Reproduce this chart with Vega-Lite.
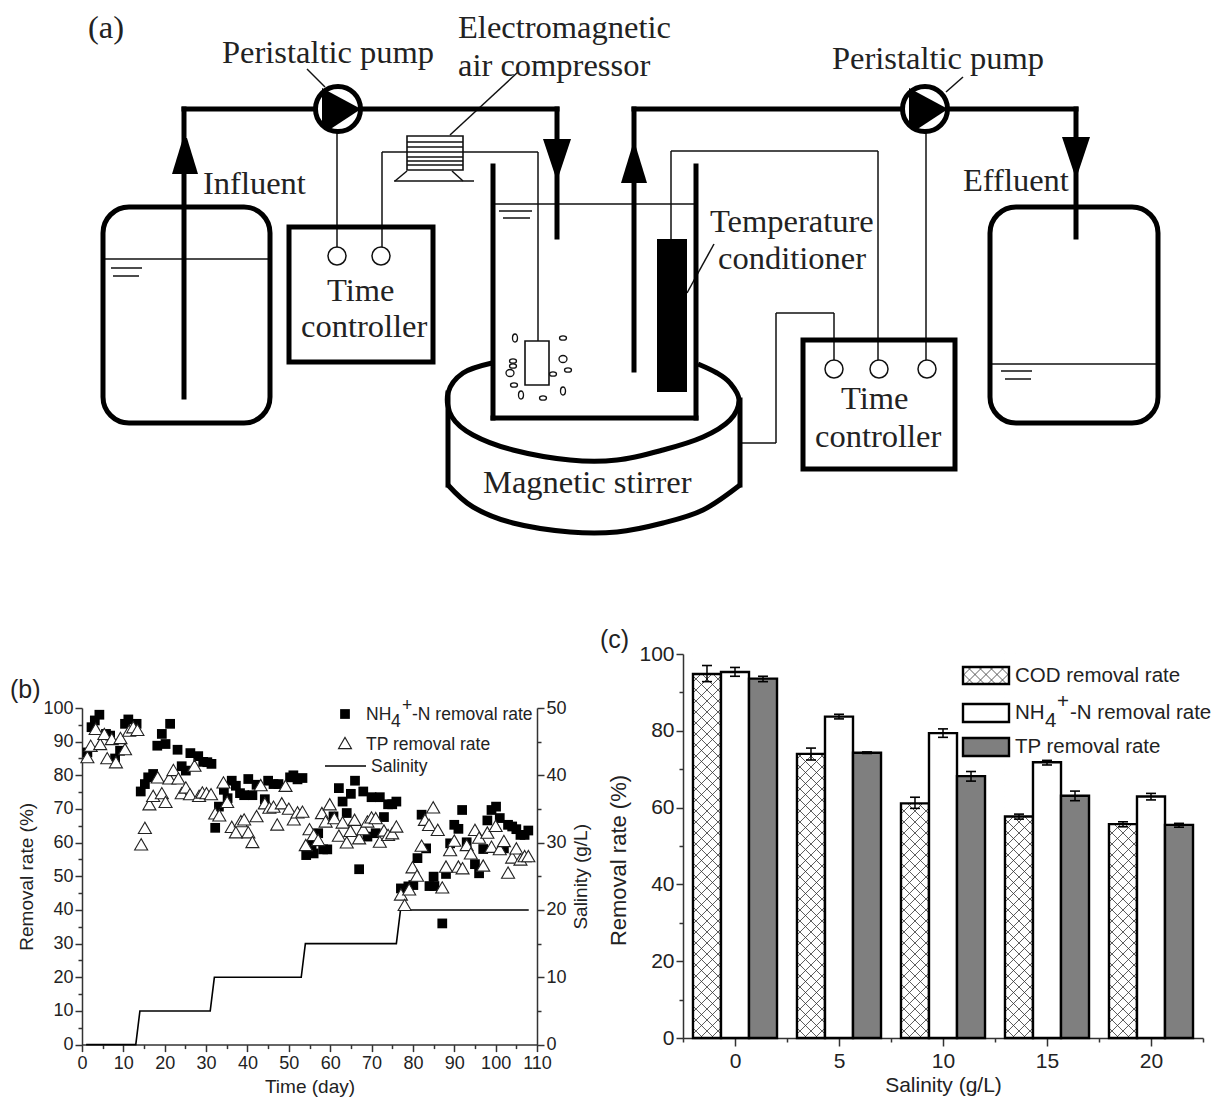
{
"$schema":"https://vega.github.io/schema/vega-lite/v6.json",
"width":1212,"height":1099,"padding":0,
"autosize":{"type":"fit","contains":"padding"},
"background":"white",
"config":{"view":{"stroke":null},"axis":{"grid":false,"labelFont":"Liberation Sans","titleFont":"Liberation Sans","labelColor":"#222","titleColor":"#222","titleFontWeight":"normal","domainColor":"#333","tickColor":"#333","domainWidth":1.5,"tickWidth":1.5,"labelOverlap":false,"labelFlush":false,"labelBound":false}},
"datasets":{
"bars":[
{"salinity":0,"series":"COD removal rate","rate":94.8,"low":92.8,"high":97},
{"salinity":0,"series":"NH4+-N removal rate","rate":95.3,"low":94.2,"high":96.5},
{"salinity":0,"series":"TP removal rate","rate":93.6,"low":92.8,"high":94.2},
{"salinity":5,"series":"COD removal rate","rate":74,"low":72.4,"high":75.5},
{"salinity":5,"series":"NH4+-N removal rate","rate":83.7,"low":83.1,"high":84.3},
{"salinity":5,"series":"TP removal rate","rate":74.3,"low":74.1,"high":74.5},
{"salinity":10,"series":"COD removal rate","rate":61.1,"low":59.8,"high":62.7},
{"salinity":10,"series":"NH4+-N removal rate","rate":79.4,"low":78.3,"high":80.5},
{"salinity":10,"series":"TP removal rate","rate":68.2,"low":66.9,"high":69.4},
{"salinity":15,"series":"COD removal rate","rate":57.7,"low":57,"high":58.3},
{"salinity":15,"series":"NH4+-N removal rate","rate":71.8,"low":71.1,"high":72.3},
{"salinity":15,"series":"TP removal rate","rate":63.1,"low":61.8,"high":64.3},
{"salinity":20,"series":"COD removal rate","rate":55.7,"low":55,"high":56.3},
{"salinity":20,"series":"NH4+-N removal rate","rate":62.9,"low":62,"high":63.7},
{"salinity":20,"series":"TP removal rate","rate":55.5,"low":54.9,"high":55.9}
],
"sal":[{"day":1,"s":0},{"day":13,"s":0},{"day":14,"s":5},{"day":31,"s":5},{"day":32,"s":10},{"day":53,"s":10},{"day":54,"s":15},{"day":76,"s":15},{"day":77,"s":20},{"day":108,"s":20}],
"nh4":[
{"day":1.3,"rate":86.8},{"day":2.3,"rate":94.3},{"day":3.1,"rate":96.3},{"day":4.2,"rate":98},{"day":5.8,"rate":92.3},{"day":6.8,"rate":91.8},{"day":8,"rate":85},{"day":9.2,"rate":87.3},{"day":10.4,"rate":95.3},{"day":11.2,"rate":96.6},{"day":13.2,"rate":95.3},{"day":14.2,"rate":75.2},{"day":15.2,"rate":77.4},{"day":16,"rate":79.4},{"day":17.2,"rate":80.4},{"day":18.2,"rate":88.8},{"day":19.3,"rate":92.3},{"day":20.2,"rate":89.3},{"day":21.3,"rate":95.3},{"day":23.1,"rate":87.6},{"day":24.1,"rate":82.7},{"day":25.1,"rate":81.4},{"day":26.2,"rate":86.6},{"day":28.1,"rate":85.7},{"day":29.3,"rate":84},{"day":30.3,"rate":83.9},{"day":31.3,"rate":83.4},{"day":32.2,"rate":64.4},{"day":33.1,"rate":70.7},{"day":34.3,"rate":75.7},{"day":35.2,"rate":73.2},{"day":36.2,"rate":78.4},{"day":37.2,"rate":76.9},{"day":38.2,"rate":74.7},{"day":39.2,"rate":74.1},{"day":40.2,"rate":78.9},{"day":41.2,"rate":74.1},{"day":42.2,"rate":77.2},{"day":44.2,"rate":72.9},{"day":45,"rate":78.4},{"day":46.3,"rate":77.4},{"day":47.5,"rate":77.4},{"day":50.3,"rate":79.4},{"day":51.1,"rate":80},{"day":52.1,"rate":78.8},{"day":53.3,"rate":79.2},{"day":54.2,"rate":56.3},{"day":55.5,"rate":59.3},{"day":56,"rate":56.8},{"day":57.1,"rate":62.8},{"day":58.3,"rate":58},{"day":59.3,"rate":58},{"day":60.8,"rate":67.8},{"day":62.1,"rate":76.2},{"day":63,"rate":72.2},{"day":64,"rate":68.8},{"day":65,"rate":74.5},{"day":66,"rate":78.4},{"day":67,"rate":52.1},{"day":68,"rate":75.2},{"day":69,"rate":61.8},{"day":70,"rate":73.5},{"day":71,"rate":62.8},{"day":72,"rate":73.5},{"day":73,"rate":67.6},{"day":74,"rate":71.4},{"day":75,"rate":71.4},{"day":76,"rate":72.2},{"day":77.1,"rate":46.4},{"day":78.9,"rate":47},{"day":80.1,"rate":47.4},{"day":81.1,"rate":55.4},{"day":82.1,"rate":68.3},{"day":83.2,"rate":58.3},{"day":84,"rate":47.1},{"day":85,"rate":49.9},{"day":85.2,"rate":47.1},{"day":87.1,"rate":36},{"day":88,"rate":50.7},{"day":89,"rate":59.8},{"day":90,"rate":65.3},{"day":91,"rate":64.1},{"day":91.9,"rate":69.7},{"day":93,"rate":60.1},{"day":95,"rate":53.6},{"day":96,"rate":50.9},{"day":97,"rate":58.1},{"day":98,"rate":66.6},{"day":99,"rate":69.7},{"day":100.1,"rate":70.7},{"day":101,"rate":67.3},{"day":102,"rate":58.3},{"day":103,"rate":65.3},{"day":104,"rate":64.8},{"day":105,"rate":64},{"day":106,"rate":62.3},{"day":107,"rate":62.3},{"day":107.9,"rate":63.6}
],
"tp":[
{"day":1.3,"rate":85.4},{"day":2.1,"rate":88.8},{"day":3.3,"rate":93.8},{"day":4.4,"rate":89.3},{"day":5.4,"rate":92.3},{"day":6.1,"rate":85.1},{"day":7.2,"rate":90.8},{"day":8.2,"rate":83.9},{"day":9.3,"rate":91.1},{"day":10.4,"rate":87.8},{"day":11.4,"rate":93.3},{"day":12.4,"rate":94.3},{"day":13.4,"rate":93.5},{"day":14.3,"rate":59.5},{"day":15.2,"rate":64.4},{"day":16.3,"rate":71.4},{"day":17.2,"rate":73.9},{"day":18.3,"rate":79.4},{"day":19.3,"rate":74.7},{"day":20.2,"rate":72.1},{"day":21.1,"rate":79.1},{"day":22.1,"rate":81.6},{"day":23.3,"rate":79.1},{"day":24.1,"rate":74.7},{"day":25.1,"rate":76.4},{"day":26.1,"rate":74.4},{"day":27.2,"rate":82.9},{"day":28.3,"rate":73.9},{"day":29.1,"rate":74.9},{"day":30.1,"rate":74.7},{"day":31.2,"rate":74.4},{"day":32.2,"rate":68.7},{"day":33.2,"rate":68.1},{"day":34.2,"rate":77.9},{"day":35.1,"rate":72.1},{"day":36.2,"rate":64.7},{"day":37.2,"rate":63.1},{"day":38.4,"rate":66.4},{"day":39.2,"rate":66.9},{"day":40.2,"rate":63.1},{"day":41.2,"rate":60.2},{"day":42.2,"rate":67.9},{"day":43.2,"rate":77.1},{"day":44.2,"rate":71.7},{"day":45.3,"rate":70.4},{"day":46.3,"rate":70.7},{"day":47.2,"rate":65.4},{"day":48.3,"rate":71.7},{"day":49.2,"rate":76.9},{"day":50,"rate":70.1},{"day":51.2,"rate":66.9},{"day":52.1,"rate":69},{"day":53.3,"rate":69.2},{"day":54.1,"rate":59.3},{"day":55,"rate":64},{"day":56,"rate":62.3},{"day":57.1,"rate":60.8},{"day":58,"rate":68.8},{"day":58.9,"rate":66.3},{"day":59.9,"rate":71.4},{"day":61,"rate":67.3},{"day":62.1,"rate":62.1},{"day":63,"rate":66},{"day":64,"rate":60.1},{"day":64.9,"rate":63.5},{"day":65.9,"rate":66.8},{"day":67,"rate":61.3},{"day":68,"rate":64},{"day":69,"rate":66.3},{"day":70,"rate":67.5},{"day":71,"rate":67.3},{"day":72,"rate":60.3},{"day":73,"rate":63.6},{"day":74,"rate":62.3},{"day":75,"rate":62.8},{"day":76,"rate":64.8},{"day":77.1,"rate":44.6},{"day":78,"rate":41.5},{"day":79.1,"rate":46.1},{"day":79.9,"rate":52.7},{"day":81,"rate":50.2},{"day":82.1,"rate":59.1},{"day":82.9,"rate":66.8},{"day":83.9,"rate":65.3},{"day":84.9,"rate":70.5},{"day":86,"rate":63.8},{"day":87.1,"rate":46.7},{"day":88,"rate":52.9},{"day":89,"rate":57.8},{"day":90,"rate":60.6},{"day":91,"rate":52.9},{"day":92,"rate":52.4},{"day":93,"rate":59.3},{"day":94,"rate":56.8},{"day":95,"rate":63.8},{"day":96,"rate":61.5},{"day":97,"rate":53.2},{"day":98,"rate":63},{"day":99,"rate":58.8},{"day":100,"rate":65},{"day":101,"rate":58.1},{"day":102,"rate":60.5},{"day":103,"rate":51.1},{"day":104,"rate":55.6},{"day":105,"rate":58.3},{"day":106,"rate":55},{"day":107,"rate":56},{"day":107.9,"rate":56}
],
"thick":[
{"x":184,"y":397,"x2":184,"y2":109},{"x":184,"y":109,"x2":557,"y2":109},{"x":557,"y":109,"x2":557,"y2":237},
{"x":634,"y":370,"x2":634,"y2":109},{"x":634,"y":109,"x2":1076,"y2":109},{"x":1076,"y":109,"x2":1076,"y2":237},
{"x":493,"y":166,"x2":493,"y2":418},{"x":493,"y":418,"x2":696,"y2":418},{"x":696,"y":418,"x2":696,"y2":166},
{"x":448,"y":393,"x2":448,"y2":485},{"x":740,"y":400,"x2":740,"y2":485}
],
"thin":[
{"x":337,"y":133,"x2":337,"y2":248},{"x":382,"y":248,"x2":382,"y2":152},{"x":382,"y":152,"x2":407,"y2":152},{"x":463,"y":152,"x2":538,"y2":152},{"x":538,"y":152,"x2":538,"y2":341},
{"x":407,"y":142,"x2":463,"y2":142},{"x":407,"y":147,"x2":463,"y2":147},{"x":407,"y":152,"x2":463,"y2":152},{"x":407,"y":157,"x2":463,"y2":157},{"x":407,"y":161,"x2":463,"y2":161},{"x":407,"y":165,"x2":463,"y2":165},
{"x":394,"y":181,"x2":474,"y2":181},{"x":407,"y":171,"x2":395,"y2":181},{"x":452,"y":171,"x2":463,"y2":181},
{"x":450,"y":135,"x2":518,"y2":72},{"x":307,"y":69,"x2":325,"y2":87},{"x":946,"y":92,"x2":963,"y2":77},{"x":714,"y":244,"x2":687,"y2":293},
{"x":671,"y":239,"x2":671,"y2":151},{"x":671,"y":151,"x2":878,"y2":151},{"x":878,"y":151,"x2":878,"y2":360},{"x":926,"y":133,"x2":926,"y2":360},
{"x":834,"y":360,"x2":834,"y2":313},{"x":834,"y":313,"x2":776,"y2":313},{"x":776,"y":313,"x2":776,"y2":443},{"x":776,"y":443,"x2":742,"y2":443},
{"x":495,"y":204,"x2":694,"y2":204},{"x":499,"y":211,"x2":532,"y2":211},{"x":503,"y":218,"x2":530,"y2":218},
{"x":103,"y":259,"x2":270,"y2":259},{"x":111,"y":268,"x2":142,"y2":268},{"x":113,"y":276,"x2":139,"y2":276},
{"x":990,"y":364,"x2":1158,"y2":364},{"x":1001,"y":371,"x2":1032,"y2":371},{"x":1005,"y":379,"x2":1031,"y2":379}
],
"stirrer":[
{"p":"top","i":0,"x":492,"y":363},{"p":"top","i":1,"x":463,"y":373},{"p":"top","i":2,"x":448,"y":393},{"p":"top","i":3,"x":452,"y":417},{"p":"top","i":4,"x":473,"y":435},{"p":"top","i":5,"x":513,"y":450},{"p":"top","i":6,"x":570,"y":460},{"p":"top","i":7,"x":617,"y":460},{"p":"top","i":8,"x":663,"y":450},{"p":"top","i":9,"x":703,"y":437},{"p":"top","i":10,"x":730,"y":420},{"p":"top","i":11,"x":739,"y":400},{"p":"top","i":12,"x":730,"y":383},{"p":"top","i":13,"x":717,"y":373},{"p":"top","i":14,"x":698,"y":364},
{"p":"bottom","i":0,"x":448,"y":485},{"p":"bottom","i":1,"x":473,"y":507},{"p":"bottom","i":2,"x":513,"y":523},{"p":"bottom","i":3,"x":570,"y":532},{"p":"bottom","i":4,"x":617,"y":532},{"p":"bottom","i":5,"x":663,"y":523},{"p":"bottom","i":6,"x":703,"y":510},{"p":"bottom","i":7,"x":740,"y":485}
],
"boxes":[{"x":289,"x2":433,"y":227,"y2":362},{"x":803,"x2":955,"y":340,"y2":469}],
"tanks":[{"x":103,"x2":270,"y":207,"y2":423},{"x":990,"x2":1158,"y":207,"y2":423}],
"parts":[{"x":407,"x2":463,"y":136,"y2":170},{"x":525,"x2":549,"y":341,"y2":385}],
"heater":[{"x":657,"x2":687,"y":239,"y2":392}],
"pumps":[{"x":338,"y":109},{"x":925,"y":109}],
"ports":[{"x":337,"y":256},{"x":381,"y":256},{"x":834,"y":369},{"x":879,"y":369},{"x":927,"y":369}],
"arrowsUp":[{"x":185,"y":156},{"x":634,"y":165}],
"arrowsDown":[{"x":557,"y":157},{"x":1076,"y":155}],
"bubbles":[{"x":515,"y":338,"k":"tall"},{"x":563,"y":338,"k":"wide"},{"x":563,"y":359,"k":"round"},{"x":568,"y":370,"k":"wide"},{"x":553,"y":374,"k":"wide"},{"x":513,"y":366,"k":"wide"},{"x":510,"y":373,"k":"round"},{"x":514,"y":385,"k":"wide"},{"x":521,"y":395,"k":"tall"},{"x":543,"y":398,"k":"wide"},{"x":563,"y":391,"k":"tall"},{"x":513,"y":361,"k":"wide"}],
"serif":[
{"x":88,"y":38,"t":"(a)"},{"x":222,"y":63,"t":"Peristaltic pump"},{"x":832,"y":69,"t":"Peristaltic pump"},{"x":458,"y":38,"t":"Electromagnetic"},{"x":458,"y":76,"t":"air compressor"},{"x":203,"y":194,"t":"Influent"},{"x":963,"y":191,"t":"Effluent"},{"x":710,"y":232,"t":"Temperature"},{"x":718,"y":269,"t":"conditioner"},{"x":327,"y":301,"t":"Time"},{"x":301,"y":337,"t":"controller"},{"x":841,"y":409,"t":"Time"},{"x":815,"y":447,"t":"controller"},{"x":483,"y":493,"t":"Magnetic stirrer"}
],
"panelTags":[{"x":10,"y":698,"t":"(b)"},{"x":600,"y":648,"t":"(c)"}],
"legendB":[{"x":366,"y":720,"t":"NH"},{"x":391,"y":727,"t":"4"},{"x":402,"y":711,"t":"+"},{"x":412,"y":720,"t":"-N removal rate"},{"x":366,"y":750,"t":"TP removal rate"},{"x":371,"y":772,"t":"Salinity"}],
"legendC":[{"x":1015,"y":682,"t":"COD removal rate"},{"x":1015,"y":719,"t":"NH"},{"x":1045,"y":727,"t":"4"},{"x":1057,"y":708,"t":"+"},{"x":1070,"y":719,"t":"-N removal rate"},{"x":1015,"y":753,"t":"TP removal rate"}]
},
"layer":[
{
"encoding":{
"x":{"field":"salinity","type":"ordinal","scale":{"type":"band","domain":[0,5,10,15,20],"range":[683,1203],"paddingInner":0.192,"paddingOuter":0.096},"axis":null},
"y":{"field":"rate","type":"quantitative","scale":{"domain":[0,100],"range":[1038,654]},"axis":null},
"xOffset":{"field":"series","type":"nominal","sort":["COD removal rate","NH4+-N removal rate","TP removal rate"]}
},
"layer":[
{"data":{"name":"bars"},"transform":[{"filter":"datum.series==='COD removal rate'"}],
"mark":{"type":"point","filled":false,"size":4,"stroke":"#333","strokeWidth":0.8,"opacity":1,"shape":"M8 -192L14 -186M-3 -192L14 -175M-14 -192l28 28M-14 -181l28 28M-14 -170l28 28M-14 -159l28 28M-14 -148l28 28M-14 -137l28 28M-14 -126l28 28M-14 -115l28 28M-14 -104l28 28M-14 -93l28 28M-14 -82l28 28M-14 -71l28 28M-14 -60l28 28M-14 -49l28 28M-14 -38l28 28M-14 -27l28 28M-14 -16l28 28M-14 -5l28 28M-14 6l28 28M-14 17l28 28M-14 28l28 28M-14 39l28 28M-14 50l28 28M-14 61l28 28M-14 72l28 28M-14 83l28 28M-14 94l28 28M-14 105l28 28M-14 116l28 28M-14 127l28 28M-14 138l28 28M-14 149l28 28M-14 160l28 28M-14 171L7 192M-14 182L-4 192M-8 -192L-14 -186M3 -192L-14 -175M14 -192l-28 28M14 -181l-28 28M14 -170l-28 28M14 -159l-28 28M14 -148l-28 28M14 -137l-28 28M14 -126l-28 28M14 -115l-28 28M14 -104l-28 28M14 -93l-28 28M14 -82l-28 28M14 -71l-28 28M14 -60l-28 28M14 -49l-28 28M14 -38l-28 28M14 -27l-28 28M14 -16l-28 28M14 -5l-28 28M14 6l-28 28M14 17l-28 28M14 28l-28 28M14 39l-28 28M14 50l-28 28M14 61l-28 28M14 72l-28 28M14 83l-28 28M14 94l-28 28M14 105l-28 28M14 116l-28 28M14 127l-28 28M14 138l-28 28M14 149l-28 28M14 160l-28 28M14 171L-7 192M14 182L4 192"},
"encoding":{"y":{"datum":50,"type":"quantitative","scale":{"domain":[0,100],"range":[1038,654]},"axis":null}}},
{"data":{"name":"bars"},"transform":[{"filter":"datum.series==='COD removal rate'"}],
"mark":{"type":"bar","fill":"white","stroke":"white","strokeWidth":1},
"encoding":{"y2":{"datum":100}}},
{"data":{"name":"bars"},
"mark":{"type":"bar","stroke":"black","strokeWidth":2.4},
"encoding":{"y2":{"datum":0},"fill":{"field":"series","type":"nominal","legend":null,"scale":{"domain":["COD removal rate","NH4+-N removal rate","TP removal rate"],"range":["transparent","white","#7f7f7f"]}}}},
{"data":{"name":"bars"},"mark":{"type":"rule","stroke":"black","strokeWidth":1.5},"encoding":{"y":{"field":"low","type":"quantitative","scale":{"domain":[0,100],"range":[1038,654]},"axis":null},"y2":{"field":"high"}}},
{"data":{"name":"bars"},"mark":{"type":"tick","orient":"horizontal","size":10,"thickness":1.6,"color":"black","opacity":1},"encoding":{"y":{"field":"low","type":"quantitative","scale":{"domain":[0,100],"range":[1038,654]},"axis":null}}},
{"data":{"name":"bars"},"mark":{"type":"tick","orient":"horizontal","size":10,"thickness":1.6,"color":"black","opacity":1},"encoding":{"y":{"field":"high","type":"quantitative","scale":{"domain":[0,100],"range":[1038,654]},"axis":null}}}
]
},
{
"layer":[
{"data":{"values":[{"salinity":0,"rate":0}]},"mark":{"type":"point","opacity":0},
"encoding":{
"x":{"field":"salinity","type":"quantitative","scale":{"domain":[-2.5,22.5],"range":[683,1203]},"axis":{"orient":"bottom","offset":-61,"values":[0,5,10,15,20],"labelFontSize":21,"tickSize":8,"labelPadding":4,"title":"Salinity (g/L)","titleFontSize":21,"titlePadding":3}},
"y":{"field":"rate","type":"quantitative","scale":{"domain":[0,100],"range":[1038,654]},"axis":{"orient":"left","offset":-683,"values":[0,20,40,60,80,100],"labelFontSize":21,"tickSize":7,"labelPadding":2,"title":"Removal rate (%)","titleFontSize":22,"titlePadding":8,"titleY":860}}}},
{"data":{"values":[{"salinity":0,"rate":0}]},"mark":{"type":"point","opacity":0},
"encoding":{
"x":{"field":"salinity","type":"quantitative","scale":{"domain":[-2.5,22.5],"range":[683,1203]},"axis":{"orient":"bottom","offset":-61,"values":[-2.5,2.5,7.5,12.5,17.5,22.5],"labels":false,"domain":false,"tickSize":4,"title":null}},
"y":{"field":"rate","type":"quantitative","scale":{"domain":[0,100],"range":[1038,654]},"axis":{"orient":"left","offset":-683,"values":[10,30,50,70,90],"labels":false,"domain":false,"tickSize":4,"title":null}}}}
],
"resolve":{"axis":{"x":"independent","y":"independent"}}
},
{
"encoding":{
"x":{"field":"day","type":"quantitative","scale":{"domain":[0,110],"range":[82,537]},"axis":null},
"y":{"field":"s","type":"quantitative","scale":{"domain":[0,50],"range":[1044.6,708]},"axis":null}
},
"layer":[
{"data":{"name":"sal"},"mark":{"type":"line","stroke":"black","strokeWidth":1.6}},
{"data":{"values":[{"day":0,"s":0}]},"mark":{"type":"point","opacity":0},
"encoding":{"y":{"field":"s","type":"quantitative","scale":{"domain":[0,50],"range":[1044.6,708]},"axis":{"orient":"right","offset":-675,"values":[0,10,20,30,40,50],"labelFontSize":18,"tickSize":7,"labelPadding":2,"title":"Salinity (g/L)","titleFontSize":19,"titleAngle":-90,"titlePadding":24}}}},
{"data":{"values":[{"day":0,"s":0}]},"mark":{"type":"point","opacity":0},
"encoding":{"y":{"field":"s","type":"quantitative","scale":{"domain":[0,50],"range":[1044.6,708]},"axis":{"orient":"right","offset":-675,"values":[5,15,25,35,45],"labels":false,"domain":false,"tickSize":4,"title":null}}}}
],
"resolve":{"axis":{"x":"independent","y":"independent"}}
},
{
"encoding":{
"x":{"field":"day","type":"quantitative","scale":{"domain":[0,110],"range":[82,537]},"axis":null},
"y":{"field":"rate","type":"quantitative","scale":{"domain":[0,100],"range":[1044.6,708]},"axis":null}
},
"layer":[
{"data":{"name":"nh4"},"mark":{"type":"point","shape":"square","filled":true,"size":95,"color":"black","opacity":1}},
{"data":{"name":"tp"},"mark":{"type":"point","shape":"triangle-up","filled":true,"fill":"white","stroke":"#222","strokeWidth":1.1,"size":170,"opacity":1}},
{"data":{"values":[{"day":0,"rate":0}]},"mark":{"type":"point","opacity":0},
"encoding":{
"x":{"field":"day","type":"quantitative","scale":{"domain":[0,110],"range":[82,537]},"axis":{"orient":"bottom","offset":-54.4,"values":[0,10,20,30,40,50,60,70,80,90,100,110],"labelFontSize":18,"tickSize":7,"labelPadding":3,"title":"Time (day)","titleFontSize":19,"titlePadding":5}},
"y":{"field":"rate","type":"quantitative","scale":{"domain":[0,100],"range":[1044.6,708]},"axis":{"orient":"left","offset":-82,"values":[0,10,20,30,40,50,60,70,80,90,100],"labelFontSize":18,"tickSize":7,"labelPadding":2,"title":"Removal rate (%)","titleFontSize":19,"titlePadding":6}}}},
{"data":{"values":[{"day":0,"rate":0}]},"mark":{"type":"point","opacity":0},
"encoding":{
"x":{"field":"day","type":"quantitative","scale":{"domain":[0,110],"range":[82,537]},"axis":{"orient":"bottom","offset":-54.4,"values":[5,15,25,35,45,55,65,75,85,95,105],"labels":false,"domain":false,"tickSize":4,"title":null}},
"y":{"field":"rate","type":"quantitative","scale":{"domain":[0,100],"range":[1044.6,708]},"axis":{"orient":"left","offset":-82,"values":[5,15,25,35,45,55,65,75,85,95],"labels":false,"domain":false,"tickSize":4,"title":null}}}}
],
"resolve":{"axis":{"x":"independent","y":"independent"}}
},
{
"encoding":{
"x":{"field":"x","type":"quantitative","scale":{"domain":[0,1212],"range":[0,1212]},"axis":null},
"y":{"field":"y","type":"quantitative","scale":{"domain":[0,1099],"range":[0,1099]},"axis":null}
},
"layer":[
{"data":{"name":"stirrer"},"mark":{"type":"line","interpolate":"cardinal","stroke":"black","strokeWidth":5},"encoding":{"detail":{"field":"p"},"order":{"field":"i","type":"quantitative"}}},
{"data":{"name":"thin"},"mark":{"type":"rule","stroke":"#111","strokeWidth":1.5},"encoding":{"x2":{"field":"x2"},"y2":{"field":"y2"}}},
{"data":{"name":"thick"},"mark":{"type":"rule","stroke":"black","strokeWidth":5,"strokeCap":"square"},"encoding":{"x2":{"field":"x2"},"y2":{"field":"y2"}}},
{"data":{"name":"boxes"},"mark":{"type":"rect","fill":"transparent","stroke":"black","strokeWidth":5},"encoding":{"x2":{"field":"x2"},"y2":{"field":"y2"}}},
{"data":{"name":"tanks"},"mark":{"type":"rect","fill":"transparent","stroke":"black","strokeWidth":5,"cornerRadius":26},"encoding":{"x2":{"field":"x2"},"y2":{"field":"y2"}}},
{"data":{"name":"parts"},"mark":{"type":"rect","fill":"transparent","stroke":"#111","strokeWidth":1.6},"encoding":{"x2":{"field":"x2"},"y2":{"field":"y2"}}},
{"data":{"name":"heater"},"mark":{"type":"rect","fill":"black"},"encoding":{"x2":{"field":"x2"},"y2":{"field":"y2"}}},
{"data":{"name":"pumps"},"mark":{"type":"point","shape":"circle","filled":true,"fill":"white","stroke":"black","strokeWidth":5,"size":2025,"opacity":1}},
{"data":{"name":"pumps"},"mark":{"type":"point","filled":true,"fill":"black","size":4,"opacity":1,"shape":"M-16 -21L23 0L-9 21L-16 18Z"}},
{"data":{"name":"ports"},"mark":{"type":"point","shape":"circle","filled":true,"fill":"white","stroke":"#111","strokeWidth":1.5,"size":324,"opacity":1}},
{"data":{"name":"arrowsUp"},"mark":{"type":"point","filled":true,"fill":"black","size":4,"opacity":1,"shape":"M-13 18L13 18L2 -18L-2 -18Z"}},
{"data":{"name":"arrowsDown"},"mark":{"type":"point","filled":true,"fill":"black","size":4,"opacity":1,"shape":"M-14 -18L14 -18L2 18L-2 18Z"}},
{"data":{"name":"bubbles"},"mark":{"type":"point","filled":false,"stroke":"#111","strokeWidth":1.3,"size":4,"opacity":1},
"encoding":{"shape":{"field":"k","type":"nominal","legend":null,"scale":{"domain":["tall","wide","round"],"range":["M-2.5 0a2.5 4 0 1 0 5 0a2.5 4 0 1 0 -5 0","M-3.5 0a3.5 2.2 0 1 0 7 0a3.5 2.2 0 1 0 -7 0","M-4 0a4 3.5 0 1 0 8 0a4 3.5 0 1 0 -8 0"]}}}},
{"data":{"name":"serif"},"mark":{"type":"text","align":"left","baseline":"alphabetic","font":"Liberation Serif","fontSize":32.5,"fill":"#222"},"encoding":{"text":{"field":"t"}}},
{"data":{"name":"panelTags"},"mark":{"type":"text","align":"left","baseline":"alphabetic","font":"Liberation Sans","fontSize":25,"fill":"#222"},"encoding":{"text":{"field":"t"}}},
{"data":{"name":"legendB"},"mark":{"type":"text","align":"left","baseline":"alphabetic","font":"Liberation Sans","fontSize":17.5,"fill":"#222"},"encoding":{"text":{"field":"t"}}},
{"data":{"name":"legendC"},"mark":{"type":"text","align":"left","baseline":"alphabetic","font":"Liberation Sans","fontSize":20.5,"fill":"#222"},"encoding":{"text":{"field":"t"}}},
{"data":{"values":[{"x":345,"y":714}]},"mark":{"type":"point","shape":"square","filled":true,"color":"black","size":95,"opacity":1}},
{"data":{"values":[{"x":345,"y":743}]},"mark":{"type":"point","shape":"triangle-up","filled":true,"fill":"white","stroke":"#222","strokeWidth":1.1,"size":170,"opacity":1}},
{"data":{"values":[{"x":325,"y":766,"x2":366,"y2":766}]},"mark":{"type":"rule","stroke":"black","strokeWidth":1.6},"encoding":{"x2":{"field":"x2"},"y2":{"field":"y2"}}},
{"data":{"values":[{"x":986,"y":675.5}]},"mark":{"type":"point","filled":false,"size":4,"stroke":"#333","strokeWidth":0.8,"opacity":1,"shape":"M-23 -2L-12 9M-19 -9L-1 9M-8 -9L10 9M3 -9L21 9M14 -9L23 0M23 -2L12 9M19 -9L1 9M8 -9L-10 9M-3 -9L-21 9M-14 -9L-23 0"}},
{"data":{"values":[{"x":963,"x2":1009,"y":667,"y2":684,"k":"a"},{"x":963,"x2":1009,"y":704,"y2":722,"k":"b"},{"x":963,"x2":1009,"y":738,"y2":756,"k":"c"}]},"mark":{"type":"rect","stroke":"black","strokeWidth":2.4},"encoding":{"x2":{"field":"x2"},"y2":{"field":"y2"},"fill":{"field":"k","type":"nominal","legend":null,"scale":{"domain":["a","b","c"],"range":["transparent","white","#7f7f7f"]}}}}
],
"resolve":{"axis":{"x":"independent","y":"independent"}}
}
],
"resolve":{"scale":{"x":"independent","y":"independent"},"axis":{"x":"independent","y":"independent"}}
}
